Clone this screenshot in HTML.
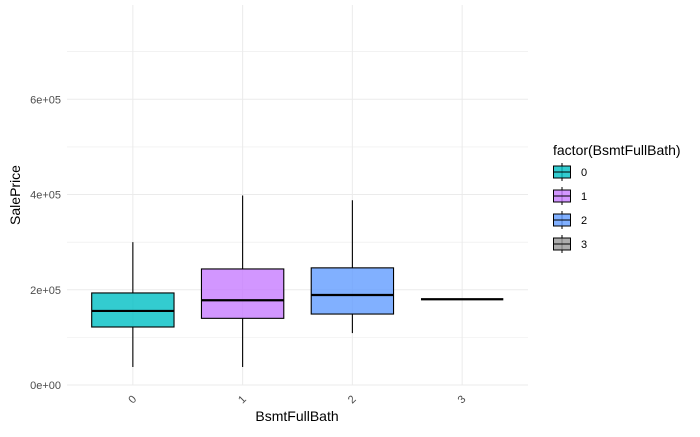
<!DOCTYPE html>
<html><head><meta charset="utf-8"><style>
body{margin:0;background:#fff;font-family:"Liberation Sans",sans-serif}
</style></head><body>
<svg id="chart" width="700" height="432" xmlns="http://www.w3.org/2000/svg" font-family="Liberation Sans, sans-serif">
<g id="grid"></g>
<g id="boxes"></g>
<g id="axes"></g>
<text x="297" y="421" font-size="14" fill="#000" text-anchor="middle">BsmtFullBath</text>
<text transform="translate(20,195) rotate(-90)" font-size="14" fill="#000" text-anchor="middle">SalePrice</text>
<g id="legend">
<text x="553" y="155" font-size="14" fill="#000">factor(BsmtFullBath)</text>
</g>
</svg>
<script>
const categories=["0","1","2","3"];
const lowerW=[37800,37800,109000,180000];
const q1=[121800,140000,149000,180000];
const medians=[155500,178000,189000,180000];
const q3=[193300,243700,246000,180000];
const upperW=[300000,398000,388000,180000];
const colors=["#00BFC4","#C77CFF","#619CFF","#999999"];
const yTicks=[0,200000,400000,600000];
const yTickLabels=["0e+00","2e+05","4e+05","6e+05"];
const NS="http://www.w3.org/2000/svg";
const L=67,R=528,T=5,B=385,YMAX=798000;
const y=v=>B-(v/YMAX)*(B-T);
const step=(R-L)/(categories.length-1+1.2);
const x=i=>L+step*(i+0.6);
function mk(tag,attrs,parent){const e=document.createElementNS(NS,tag);for(const k in attrs)e.setAttribute(k,attrs[k]);parent.appendChild(e);return e;}
const grid=document.getElementById('grid'),boxes=document.getElementById('boxes'),axes=document.getElementById('axes'),legend=document.getElementById('legend');
for(let v=0;v<=YMAX;v+=100000){const g=mk('line',{x1:L,x2:R,y1:y(v),y2:y(v),stroke:'#ebebeb','stroke-width':v%200000===0?1:0.6},grid);

}
categories.forEach((c,i)=>{const g=mk('line',{x1:x(i),x2:x(i),y1:T,y2:B,stroke:'#ebebeb'},grid);

});
yTicks.forEach((v,i)=>{const t=mk('text',{x:61,y:y(v)+4,'font-size':11,fill:'#4d4d4d','text-anchor':'end'},axes);t.textContent=yTickLabels[i];

});
const bwid=step*0.75;
categories.forEach((c,i)=>{
const cx=x(i);
const g=mk('g',{},boxes);


mk('line',{x1:cx,x2:cx,y1:y(upperW[i]),y2:y(q3[i]),stroke:'#000','stroke-width':1.1},g);
mk('line',{x1:cx,x2:cx,y1:y(q1[i]),y2:y(lowerW[i]),stroke:'#000','stroke-width':1.1},g);
if(q3[i]>q1[i])mk('rect',{x:cx-bwid/2,y:y(q3[i]),width:bwid,height:y(q1[i])-y(q3[i]),fill:colors[i],'fill-opacity':0.8,stroke:'#000','stroke-width':1.1},g);
mk('line',{x1:cx-bwid/2,x2:cx+bwid/2,y1:y(medians[i]),y2:y(medians[i]),stroke:'#000','stroke-width':2.2},g);
const t=mk('text',{transform:`translate(${cx+2},${402}) rotate(-45)`,'font-size':11,fill:'#4d4d4d','text-anchor':'middle'},axes);t.textContent=c;


const ly=172+i*24;
const lg=mk('g',{},legend);


mk('line',{x1:562,x2:562,y1:ly-9,y2:ly+9,stroke:'#000'},lg);
mk('rect',{x:553.5,y:ly-6,width:17,height:12,fill:colors[i],'fill-opacity':0.8,stroke:'#000'},lg);
mk('line',{x1:553.5,x2:570.5,y1:ly,y2:ly,stroke:'#000'},lg);
const lt=mk('text',{x:581,y:ly+4,'font-size':11,fill:'#000'},lg);lt.textContent=c;
});
</script>
</body></html>
